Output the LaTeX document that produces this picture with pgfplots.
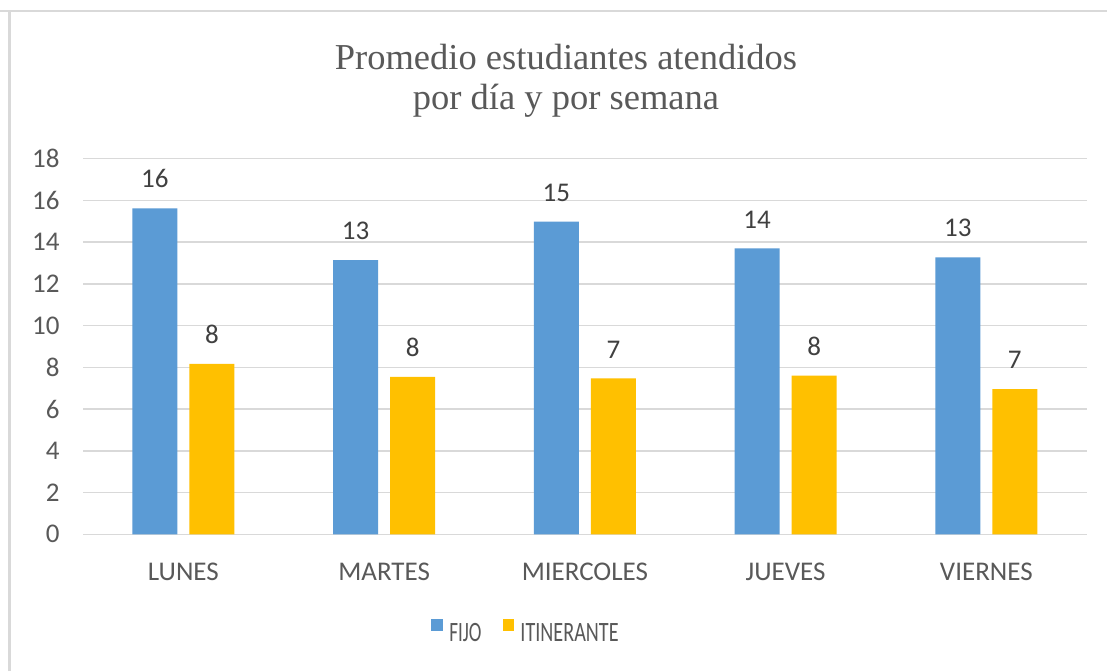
\documentclass[border=0pt]{standalone}
\usepackage{graphicx}
\usepackage{pgfplots}
\pgfplotsset{compat=1.18}
\usepackage{fontspec}
\setmainfont{Carlito}
\newfontfamily\titlefont{Liberation Serif}
\definecolor{cblue}{HTML}{5B9BD5}
\definecolor{cgold}{HTML}{FFC000}
\definecolor{cgrid}{HTML}{D9D9D9}
\definecolor{ctext}{HTML}{595959}
\definecolor{clabel}{HTML}{404040}
\newcommand\legfont{\fontsize{14}{16}\selectfont}
\begin{document}
\begin{tikzpicture}
\path[use as bounding box] (0,0) rectangle (553.5pt,335.5pt);
\fill[white] (0,0) rectangle (553.5pt,335.5pt);
\draw[cgrid, line width=1.2pt] (0pt,330pt) -- (553.5pt,330pt);
\draw[cgrid, line width=1.1pt] (4.75pt,0pt) -- (4.75pt,330.6pt);
\node[anchor=base, font=\titlefont\fontsize{18.25}{20}\selectfont, text=ctext, inner sep=0pt] at (283pt,301pt) {Promedio estudiantes atendidos};
\node[anchor=base, font=\titlefont\fontsize{18.25}{20}\selectfont, text=ctext, inner sep=0pt] at (283pt,280.5pt) {por día y por semana};
\begin{axis}[
  at={(41.5pt,68.35pt)}, anchor=south west,
  scale only axis, width=501.85pt, height=187.8pt,
  xmin=-0.5, xmax=4.5, ymin=0, ymax=18,
  ybar=6pt, bar width=22.5pt,
  axis line style={draw=none},
  ytick={0,2,...,18},
  xtick={0,1,2,3,4},
  xticklabels={LUNES,MARTES,MIERCOLES,JUEVES,VIERNES},
  ymajorgrids, grid style={cgrid, line width=0.75pt},
  major tick length=0pt,
  tick label style={font=\fontsize{13.5}{16}\selectfont, text=ctext, inner sep=0pt},
  xticklabel style={anchor=center, yshift=-18.6pt},
  yticklabel style={anchor=east, xshift=-11.5pt},
  /pgf/number format/assume math mode=true,
  nodes near coords={\pgfmathprintnumber[fixed,precision=0]{\pgfplotspointmeta}},
  every node near coord/.append style={font=\fontsize{13.5}{16}\selectfont, text=clabel, inner sep=0pt, yshift=10pt},
  clip=false,
  legend columns=2,
  legend style={draw=none, fill=none, at={(0.4404,-0.2601)}, anchor=center,
    font=\legfont, text=ctext,
    inner sep=0pt, outer sep=0pt, column sep=3.2pt,
    /tikz/every even column/.append style={column sep=10.5pt},
    nodes={inner sep=0pt}},
]
\addplot[fill=cblue, draw=none, legend image code/.code={\fill[cblue] (0pt,1.6pt) rectangle (5.75pt,7.6pt);}]
  coordinates {(0,15.62) (1,13.14) (2,14.98) (3,13.70) (4,13.27)};
\addplot[fill=cgold, draw=none, legend image code/.code={\fill[cgold] (0pt,1.6pt) rectangle (5.75pt,7.6pt);}]
  coordinates {(0,8.17) (1,7.54) (2,7.47) (3,7.60) (4,6.96)};
\legend{{\legfont\scalebox{0.68}[1]{FIJO}}, {\legfont\scalebox{0.72}[1]{ITINERANTE}}}
\end{axis}
\end{tikzpicture}
\end{document}
